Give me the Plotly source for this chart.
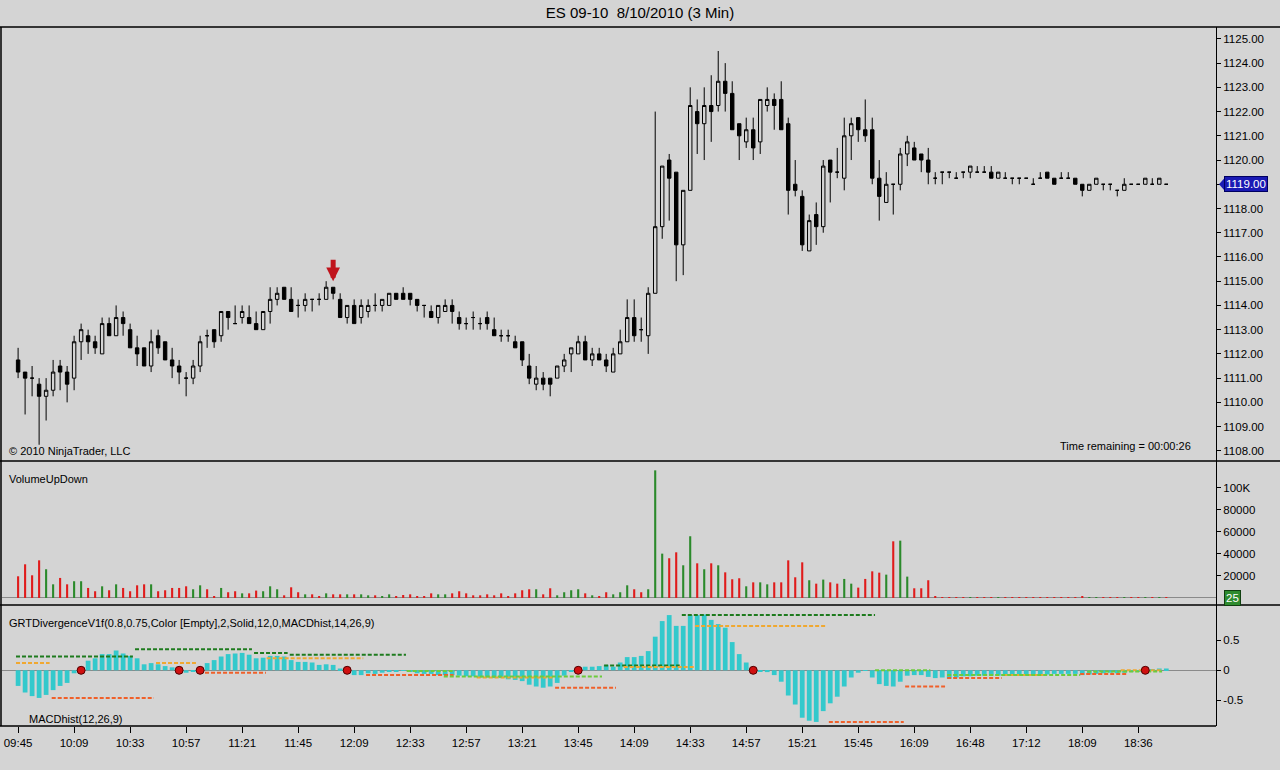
import plotly.graph_objects as go

# ES 09-10, 8/10/2010, 3 min bars
opens = [
    1111.75, 1111.25, 1111.0, 1110.75, 1110.25, 1110.5, 1111.5, 1111.25, 1111.0, 1112.5,
    1112.75, 1112.5, 1112.0, 1113.25, 1112.75, 1113.5, 1113.0, 1112.25, 1112.25, 1111.5,
    1112.75, 1112.5, 1111.75, 1111.5, 1111.0, 1111.0, 1111.5, 1112.75, 1113.0, 1112.75,
    1113.75, 1113.25, 1113.5, 1113.5, 1113.25, 1113.0, 1113.75, 1114.25, 1114.75, 1114.25,
    1114.0, 1114.0, 1114.25, 1114.25, 1114.25, 1114.75, 1114.25, 1113.5, 1114.0, 1113.5,
    1113.75, 1114.0, 1114.0, 1114.0, 1114.5, 1114.5, 1114.5, 1114.25, 1114.0, 1113.75,
    1113.5, 1113.75, 1114.0, 1113.5, 1113.25, 1113.5, 1113.25, 1113.5, 1113.0, 1112.75,
    1112.75, 1112.5, 1112.5, 1111.5, 1110.75, 1111.0, 1111.0, 1111.0, 1111.5, 1112.0,
    1112.0, 1112.5, 1111.75, 1112.0, 1111.75, 1111.25, 1112.0, 1112.5, 1113.5, 1113.0,
    1112.75, 1114.5, 1117.25, 1120.0, 1119.5, 1116.5, 1118.75, 1122.0, 1121.5, 1122.25,
    1122.25, 1123.25, 1122.75, 1121.5, 1120.75, 1121.25, 1120.75, 1122.25, 1122.5, 1122.5,
    1121.5, 1119.0, 1118.5, 1116.25, 1117.75, 1117.25, 1120.0, 1119.5, 1119.25, 1121.0,
    1121.75, 1121.25, 1121.25, 1119.25, 1118.25, 1119.0, 1119.0, 1120.25, 1120.5, 1120.25,
    1120.0, 1119.25, 1119.5, 1119.5, 1119.25, 1119.5, 1119.5, 1119.5, 1119.5, 1119.5,
    1119.25, 1119.25, 1119.25, 1119.25, 1119.25, 1119.0, 1119.25, 1119.5, 1119.25, 1119.25,
    1119.25, 1119.25, 1119.0, 1118.75, 1119.0, 1119.0, 1119.0, 1118.75, 1118.75, 1119.0,
    1119.0, 1119.0, 1119.0, 1119.0, 1119.0,
]
highs = [
    1112.25, 1111.25, 1111.5, 1111.0, 1111.0, 1111.75, 1111.75, 1111.5, 1112.75, 1113.25,
    1113.0, 1112.75, 1113.5, 1113.5, 1114.0, 1113.75, 1113.25, 1112.75, 1112.25, 1113.0,
    1113.0, 1112.5, 1112.25, 1111.75, 1111.25, 1111.75, 1112.75, 1113.0, 1113.0, 1113.75,
    1113.75, 1114.0, 1114.0, 1114.0, 1113.75, 1113.75, 1114.75, 1114.75, 1114.75, 1114.75,
    1114.25, 1114.5, 1114.25, 1114.5, 1115.0, 1114.75, 1114.5, 1114.0, 1114.25, 1114.25,
    1114.25, 1114.5, 1114.25, 1114.5, 1114.5, 1114.75, 1114.5, 1114.25, 1114.0, 1114.0,
    1114.0, 1114.25, 1114.25, 1113.75, 1113.5, 1113.75, 1113.5, 1113.75, 1113.5, 1113.0,
    1113.0, 1112.75, 1112.5, 1112.0, 1111.5, 1111.25, 1111.0, 1111.5, 1112.0, 1112.25,
    1112.75, 1112.75, 1112.25, 1112.25, 1112.0, 1112.25, 1113.0, 1114.25, 1114.25, 1113.5,
    1114.75, 1122.0, 1119.75, 1120.25, 1119.5, 1118.75, 1123.0, 1122.5, 1123.0, 1123.5,
    1124.5, 1124.0, 1123.25, 1121.5, 1121.75, 1121.75, 1122.5, 1123.0, 1122.75, 1123.25,
    1121.75, 1120.0, 1118.75, 1117.75, 1118.25, 1120.0, 1120.0, 1120.5, 1121.75, 1121.75,
    1121.75, 1122.5, 1121.75, 1120.0, 1119.5, 1119.0, 1120.5, 1121.0, 1120.75, 1120.25,
    1120.5, 1119.5, 1119.5, 1119.5, 1119.5, 1119.5, 1119.75, 1119.75, 1119.75, 1119.75,
    1119.5, 1119.5, 1119.25, 1119.25, 1119.25, 1119.25, 1119.5, 1119.5, 1119.25, 1119.5,
    1119.5, 1119.25, 1119.0, 1119.0, 1119.25, 1119.0, 1119.0, 1118.75, 1119.25, 1119.0,
    1119.0, 1119.25, 1119.25, 1119.25, 1119.0,
]
lows = [
    1111.0, 1109.5, 1110.25, 1108.25, 1109.25, 1110.25, 1110.5, 1110.0, 1110.5, 1111.75,
    1112.0, 1112.0, 1112.0, 1112.75, 1112.75, 1112.75, 1112.25, 1111.5, 1111.5, 1111.25,
    1112.0, 1111.75, 1111.0, 1110.75, 1110.25, 1110.75, 1111.25, 1112.25, 1112.25, 1112.5,
    1113.0, 1113.25, 1113.25, 1113.25, 1113.0, 1113.0, 1113.25, 1114.0, 1114.25, 1113.75,
    1113.5, 1113.75, 1113.75, 1114.0, 1114.25, 1114.25, 1113.5, 1113.25, 1113.25, 1113.25,
    1113.5, 1113.75, 1113.75, 1114.0, 1114.25, 1114.25, 1114.0, 1113.75, 1113.5, 1113.5,
    1113.25, 1113.75, 1113.25, 1113.0, 1113.0, 1113.0, 1113.0, 1113.0, 1112.75, 1112.5,
    1112.5, 1112.25, 1111.5, 1110.75, 1110.5, 1110.5, 1110.25, 1111.0, 1111.25, 1111.25,
    1112.0, 1111.75, 1111.5, 1111.75, 1111.25, 1111.25, 1112.0, 1112.5, 1112.5, 1112.5,
    1112.0, 1114.5, 1116.75, 1117.5, 1115.0, 1115.25, 1118.75, 1120.25, 1120.0, 1120.75,
    1122.0, 1122.0, 1121.25, 1120.0, 1120.5, 1120.0, 1120.25, 1122.0, 1121.25, 1121.25,
    1117.75, 1118.5, 1116.25, 1116.25, 1116.5, 1117.0, 1118.25, 1119.25, 1118.75, 1120.0,
    1120.75, 1120.75, 1119.0, 1117.5, 1118.25, 1117.75, 1118.75, 1119.75, 1120.0, 1119.5,
    1119.0, 1119.0, 1119.0, 1119.25, 1119.25, 1119.25, 1119.25, 1119.5, 1119.5, 1119.25,
    1119.25, 1119.25, 1119.0, 1119.0, 1119.25, 1119.0, 1119.25, 1119.25, 1119.0, 1119.25,
    1119.25, 1119.0, 1118.5, 1118.75, 1119.0, 1118.75, 1118.75, 1118.5, 1118.75, 1119.0,
    1119.0, 1119.0, 1119.0, 1119.0, 1119.0,
]
closes = [
    1111.25, 1111.0, 1111.0, 1110.25, 1110.5, 1111.25, 1111.25, 1110.75, 1112.5, 1113.0,
    1112.5, 1112.25, 1113.25, 1112.75, 1113.5, 1113.25, 1112.25, 1112.0, 1111.5, 1112.5,
    1112.25, 1111.75, 1111.5, 1111.25, 1111.0, 1111.5, 1112.5, 1112.75, 1112.5, 1113.75,
    1113.5, 1113.25, 1113.75, 1113.25, 1113.0, 1113.75, 1114.25, 1114.5, 1114.25, 1113.75,
    1114.0, 1114.25, 1114.25, 1114.25, 1114.75, 1114.5, 1113.5, 1114.0, 1113.25, 1114.0,
    1114.0, 1114.0, 1114.25, 1114.5, 1114.25, 1114.25, 1114.25, 1114.0, 1114.0, 1113.5,
    1114.0, 1114.0, 1113.75, 1113.25, 1113.25, 1113.5, 1113.25, 1113.25, 1112.75, 1112.75,
    1112.75, 1112.25, 1111.75, 1111.0, 1111.0, 1110.75, 1110.75, 1111.5, 1111.75, 1112.25,
    1112.5, 1111.75, 1112.0, 1111.75, 1111.5, 1112.0, 1112.5, 1113.5, 1112.75, 1113.0,
    1114.5, 1117.25, 1119.75, 1119.25, 1116.5, 1118.75, 1122.25, 1121.5, 1122.25, 1122.0,
    1123.25, 1122.75, 1121.25, 1121.0, 1121.25, 1120.5, 1122.5, 1122.5, 1122.25, 1121.25,
    1118.75, 1118.75, 1116.5, 1117.5, 1117.25, 1119.75, 1119.5, 1119.5, 1121.0, 1121.5,
    1121.25, 1121.0, 1119.25, 1118.5, 1119.0, 1119.0, 1120.25, 1120.75, 1120.0, 1120.0,
    1119.5, 1119.25, 1119.5, 1119.5, 1119.25, 1119.5, 1119.75, 1119.5, 1119.5, 1119.25,
    1119.5, 1119.25, 1119.25, 1119.25, 1119.25, 1119.0, 1119.25, 1119.25, 1119.0, 1119.25,
    1119.25, 1119.0, 1118.75, 1119.0, 1119.25, 1119.0, 1119.0, 1118.75, 1119.0, 1119.0,
    1119.0, 1119.25, 1119.0, 1119.25, 1119.0,
]
volumes = [
    19700, 30600, 20600, 34200, 26100, 12400, 18200, 12400, 15200, 15200,
    9100, 6100, 10600, 7000, 12400, 9100, 6100, 11500, 12400, 12400,
    6100, 7000, 9100, 9100, 10600, 7900, 11500, 7900, 1800, 9100,
    5200, 6100, 4200, 4200, 6700, 6100, 10600, 7900, 2400, 9700,
    5200, 3300, 3300, 900, 4200, 3300, 3300, 3300, 3300, 3300,
    2400, 2400, 1500, 3300, 1800, 2700, 3300, 1500, 1500, 4200,
    3300, 3300, 4200, 6100, 4200, 2400, 2400, 3300, 2400, 4200,
    1500, 4200, 7000, 7900, 7900, 3300, 8800, 2400, 5200, 7000,
    7900, 4200, 2400, 1500, 5200, 3300, 5200, 11500, 7900, 5200,
    7900, 116000, 40300, 36100, 41500, 29700, 56100, 31500, 26100, 31500,
    29700, 23300, 17000, 17900, 10600, 14200, 14200, 12400, 14200, 14200,
    34200, 18800, 32400, 16100, 13000, 16700, 14200, 13000, 17300, 13000,
    9400, 17300, 24200, 23000, 21200, 51500, 52100, 19400, 8800, 8800,
    16100, 900, 800, 700, 800, 200, 600, 700, 100, 800,
    600, 700, 100, 600, 100, 500, 100, 300, 200, 100,
    200, 500, 900, 600, 500, 600, 100, 300, 700, 200,
    100, 300, 100, 200, 25,
]
macd_hist = [
    -0.26, -0.37, -0.43, -0.46, -0.41, -0.33, -0.26, -0.21, -0.05, 0.03,
    0.16, 0.20, 0.27, 0.27, 0.33, 0.28, 0.24, 0.20, 0.10, 0.12,
    0.10, 0.07, 0.05, 0.02, -0.04, -0.02, 0.01, 0.12, 0.17, 0.23,
    0.27, 0.28, 0.29, 0.26, 0.20, 0.21, 0.24, 0.24, 0.23, 0.17,
    0.14, 0.14, 0.13, 0.09, 0.10, 0.09, 0.03, 0.00, -0.08, -0.08,
    -0.05, -0.06, -0.04, -0.02, -0.02, -0.01, -0.02, -0.05, -0.06, -0.06,
    -0.08, -0.08, -0.08, -0.09, -0.10, -0.10, -0.12, -0.12, -0.13, -0.13,
    -0.15, -0.16, -0.18, -0.24, -0.27, -0.29, -0.27, -0.21, -0.09, -0.02,
    0.01, 0.06, 0.06, 0.07, 0.09, 0.06, 0.13, 0.22, 0.22, 0.24,
    0.32, 0.56, 0.82, 0.92, 0.74, 0.74, 0.92, 0.92, 0.93, 0.84,
    0.77, 0.71, 0.47, 0.27, 0.13, 0.00, -0.02, -0.03, -0.08, -0.19,
    -0.42, -0.57, -0.79, -0.84, -0.86, -0.68, -0.55, -0.44, -0.27, -0.12,
    -0.04, -0.01, -0.12, -0.23, -0.26, -0.27, -0.19, -0.09, -0.08, -0.08,
    -0.11, -0.13, -0.12, -0.14, -0.12, -0.10, -0.10, -0.09, -0.09, -0.09,
    -0.09, -0.08, -0.08, -0.08, -0.08, -0.08, -0.07, -0.07, -0.06, -0.06,
    -0.06, -0.06, -0.08, -0.07, -0.06, -0.05, -0.04, -0.05, -0.04, -0.03,
    -0.02, 0.00, 0.02, 0.03, 0.03,
]
time_labels = ['09:45', '10:09', '10:33', '10:57', '11:21', '11:45', '12:09',
               '12:33', '12:57', '13:21', '13:45', '14:09', '14:33', '14:57',
               '15:21', '15:45', '16:09', '16:48', '17:12', '18:09', '18:36']
price_ticks = list(range(1108, 1126))
vol_ticks = [20000, 40000, 60000, 80000, 100000]
vol_tick_text = ['20000', '40000', '60000', '80000', '100K']
macd_ticks = [-0.5, 0, 0.5]
macd_tick_text = ['-0.5', '0', '0.5']

# divergence pivots (red dots) and dashed divergence levels
pivot_bars = [9, 23, 26, 47, 80, 105, 161]
div_start = [-0.3, -0.3, 4.8, 16.7, 19.7, 26.7, 33.7, 35.5, 38.8, 49.7, 55.5, 60.8, 65.5, 76.7,
             83.7, 86.5, 94.8, 96.7, 115.8, 122.4, 126.7, 132.7, 132.7, 140.7, 151.7, 152.7, 157.5]
div_end = [16.4, 4.5, 19.4, 33.4, 25.4, 35.4, 38.5, 49.3, 55.4, 62.2, 62.4, 83.4, 76.5, 85.4,
           94.5, 96.5, 122.4, 115.5, 126.5, 130.3, 132.4, 140.5, 151.7, 146.4, 158.4, 163.4, 163.4]
div_level = [0.23, 0.12, -0.46, 0.35, 0.12, -0.04, 0.29, 0.20, 0.26, -0.08, -0.01, -0.105, -0.12, -0.29,
             0.08, 0.056, 0.92, 0.74, -0.86, 0.0, -0.27, -0.13, -0.08, -0.08, -0.06, -0.02, 0.0]
div_kind = ['g', 'o', 'r', 'g', 'o', 'r', 'g', 'o', 'g', 'r', 'lg', 'lg', 'o', 'r',
            'g', 'o', 'g', 'o', 'r', 'lg', 'r', 'r', 'lg', 'o', 'r', 'lg', 'o']
signal_bar = 45

bars = list(range(len(closes)))
last_close = closes[-1]

BG = '#d4d4d4'
FONT = 'Liberation Sans, Arial, sans-serif'
DIV_COLORS = {'g': '#1e7b1e', 'o': '#f0a830', 'r': '#f0602a', 'lg': '#6ccc3c'}

# window frame in pixels
PL, PR, PT, PB = 2, 1216, 27, 726
SEP_VOL, SEP_MACD = 461, 605


def fx(p):
    return (p - PL) / (PR - PL)


def fy(p):
    return (PB - p) / (PB - PT)


fig = go.Figure()

fig.add_trace(go.Candlestick(
    x=bars, open=opens, high=highs, low=lows, close=closes,
    increasing=dict(line=dict(color='black', width=1), fillcolor=BG),
    decreasing=dict(line=dict(color='black', width=1), fillcolor='black'),
    whiskerwidth=0, xaxis='x', yaxis='y'))

vol_colors = ['#2b8a2b' if c > o else '#e01b1b' for o, c in zip(opens, closes)]
fig.add_trace(go.Bar(x=bars, y=volumes, width=0.3,
                     marker=dict(color=vol_colors, line=dict(width=0)),
                     xaxis='x', yaxis='y2'))

fig.add_trace(go.Bar(x=bars, y=macd_hist, width=0.68,
                     marker=dict(color='#33c9cc', line=dict(width=0)),
                     xaxis='x', yaxis='y3'))

for kind, color in DIV_COLORS.items():
    xs, ys = [], []
    for s, e, lv, k in zip(div_start, div_end, div_level, div_kind):
        if k == kind:
            xs += [s, e, None]
            ys += [lv, lv, None]
    fig.add_trace(go.Scatter(x=xs, y=ys, mode='lines',
                             line=dict(color=color, width=2, dash='4px,2px'),
                             xaxis='x', yaxis='y3'))

fig.add_trace(go.Scatter(x=pivot_bars, y=[0] * len(pivot_bars), mode='markers',
                         marker=dict(size=8, color='#d01010', line=dict(color='#500000', width=1)),
                         xaxis='x', yaxis='y3'))

axis_common = dict(side='right', anchor='x', ticks='outside', ticklen=4, tickcolor='black',
                   showgrid=False, showline=True, linecolor='black', linewidth=1,
                   tickfont=dict(size=11.5), fixedrange=True)

# the last-price marker sits on top of its own tick label, as in NinjaTrader
price_tick_text = ['' if t == last_close else '%.2f' % t for t in price_ticks]

fig.update_layout(
    width=1280, height=770,
    margin=dict(l=PL, r=1280 - PR, t=PT, b=770 - PB),
    paper_bgcolor=BG, plot_bgcolor=BG,
    showlegend=False, hovermode=False,
    boxgap=0.3, barmode='overlay',
    font=dict(family=FONT, size=11, color='black'),
    title=dict(text='ES 09-10 \u00a08/10/2010 (3 Min)', x=0.5, xref='container',
               y=1 - 13 / 770, yref='container', yanchor='middle',
               font=dict(size=15, color='black')),
    xaxis=dict(domain=[0, 1], range=[-2.3, 171.1], anchor='y3',
               tickvals=bars[::8], ticktext=time_labels,
               ticks='outside', ticklen=6, tickcolor='black',
               showgrid=False, zeroline=False, showline=False,
               rangeslider=dict(visible=False), tickfont=dict(size=11.5), fixedrange=True),
    yaxis=dict(domain=[fy(SEP_VOL), 1], range=[1107.58, 1125.49],
               tickvals=price_ticks, ticktext=price_tick_text, zeroline=False, **axis_common),
    yaxis2=dict(domain=[fy(SEP_MACD), fy(SEP_VOL)], range=[-6400, 124500],
                tickvals=vol_ticks, ticktext=vol_tick_text,
                zeroline=True, zerolinecolor='#8a8a8a', zerolinewidth=1, **axis_common),
    yaxis3=dict(domain=[0, fy(SEP_MACD)], range=[-0.928, 1.088],
                tickvals=macd_ticks, ticktext=macd_tick_text,
                zeroline=True, zerolinecolor='#8a8a8a', zerolinewidth=1, **axis_common),
)

# panel frame lines
frame = dict(type='line', xref='paper', yref='paper', line=dict(color='black', width=1.5))
for yy in (PT, SEP_VOL, SEP_MACD):
    fig.add_shape(x0=fx(0), x1=fx(1280), y0=fy(yy), y1=fy(yy), **frame)
fig.add_shape(x0=fx(0), x1=1, y0=0, y1=0, **frame)
fig.add_shape(x0=fx(1), x1=fx(1), y0=0, y1=1, **frame)

# last price / last volume markers on the axes
fig.add_shape(type='path', xref='paper', yref='y',
              path='M {:.5f},{} L {:.5f},{} L {:.5f},{} Z'.format(
                  fx(PR + 3), last_close, fx(PR + 9), last_close + 0.28, fx(PR + 9), last_close - 0.28),
              fillcolor='#1a1ab4', line=dict(width=0))
fig.add_annotation(x=1, xref='paper', y=last_close, yref='y', xanchor='left', xshift=8,
                   text='%.2f' % last_close, showarrow=False, bgcolor='#1a1ab4', bordercolor='#000060',
                   borderwidth=1, borderpad=1, font=dict(color='white', size=11.5))
fig.add_annotation(x=1, xref='paper', y=volumes[-1], yref='y2', xanchor='left', xshift=8,
                   text=str(volumes[-1]), showarrow=False, bgcolor='#2e8b2e', bordercolor='#104010',
                   borderwidth=1, borderpad=1, font=dict(color='white', size=11.5))

# signal arrow above the marked bar
fig.add_annotation(x=signal_bar, y=highs[signal_bar], xref='x', yref='y', text='',
                   showarrow=True, ax=0, ay=-29, arrowhead=2, arrowsize=0.55, arrowwidth=5,
                   arrowcolor='#c0141c', standoff=6)

# panel captions
labels = [
    ('\u00a9 2010 NinjaTrader, LLC', 7, 451, 'left'),
    ('Time remaining = 00:00:26', 1193, 446, 'right'),
    ('VolumeUpDown', 7, 479, 'left'),
    ('GRTDivergenceV1f(0.8,0.75,Color [Empty],2,Solid,12,0,MACDhist,14,26,9)', 7, 623, 'left'),
    ('MACDhist(12,26,9)', 27, 719, 'left'),
]
for txt, lx, ly, anchor in labels:
    fig.add_annotation(x=fx(lx), y=fy(ly), xref='paper', yref='paper', text=txt,
                       showarrow=False, xanchor=anchor, yanchor='middle',
                       font=dict(size=11, color='black'))

fig.write_html("out.html", config={'displayModeBar': False},
               post_script="document.body.style.margin='0px';")
